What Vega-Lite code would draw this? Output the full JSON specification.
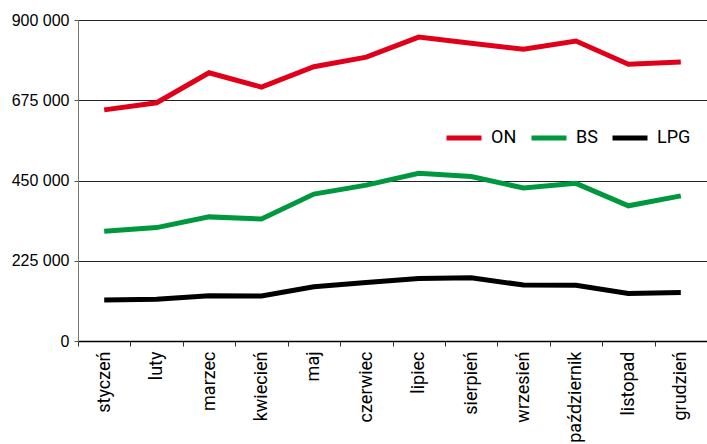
{
  "$schema": "https://vega.github.io/schema/vega-lite/v6.json",
  "width": 629,
  "height": 321,
  "autosize": {"type": "none"},
  "padding": {"left": 78, "top": 20, "right": 0, "bottom": 103},
  "background": "white",
  "data": {
    "values": [
      {"month": "styczeń", "fuel": "ON", "value": 648000},
      {"month": "luty", "fuel": "ON", "value": 668000},
      {"month": "marzec", "fuel": "ON", "value": 752000},
      {"month": "kwiecień", "fuel": "ON", "value": 712000},
      {"month": "maj", "fuel": "ON", "value": 769000},
      {"month": "czerwiec", "fuel": "ON", "value": 796000},
      {"month": "lipiec", "fuel": "ON", "value": 852000},
      {"month": "sierpień", "fuel": "ON", "value": 835000},
      {"month": "wrzesień", "fuel": "ON", "value": 818000},
      {"month": "październik", "fuel": "ON", "value": 841000},
      {"month": "listopad", "fuel": "ON", "value": 776000},
      {"month": "grudzień", "fuel": "ON", "value": 782000},
      {"month": "styczeń", "fuel": "BS", "value": 308000},
      {"month": "luty", "fuel": "BS", "value": 318000},
      {"month": "marzec", "fuel": "BS", "value": 348000},
      {"month": "kwiecień", "fuel": "BS", "value": 342000},
      {"month": "maj", "fuel": "BS", "value": 412000},
      {"month": "czerwiec", "fuel": "BS", "value": 437000},
      {"month": "lipiec", "fuel": "BS", "value": 470000},
      {"month": "sierpień", "fuel": "BS", "value": 461000},
      {"month": "wrzesień", "fuel": "BS", "value": 429000},
      {"month": "październik", "fuel": "BS", "value": 442000},
      {"month": "listopad", "fuel": "BS", "value": 379000},
      {"month": "grudzień", "fuel": "BS", "value": 407000},
      {"month": "styczeń", "fuel": "LPG", "value": 115000},
      {"month": "luty", "fuel": "LPG", "value": 117000},
      {"month": "marzec", "fuel": "LPG", "value": 127000},
      {"month": "kwiecień", "fuel": "LPG", "value": 126000},
      {"month": "maj", "fuel": "LPG", "value": 152000},
      {"month": "czerwiec", "fuel": "LPG", "value": 164000},
      {"month": "lipiec", "fuel": "LPG", "value": 175000},
      {"month": "sierpień", "fuel": "LPG", "value": 177000},
      {"month": "wrzesień", "fuel": "LPG", "value": 157000},
      {"month": "październik", "fuel": "LPG", "value": 156000},
      {"month": "listopad", "fuel": "LPG", "value": 133000},
      {"month": "grudzień", "fuel": "LPG", "value": 136000}
    ]
  },
  "mark": {"type": "line", "strokeWidth": 5, "strokeJoin": "miter", "strokeCap": "butt"},
  "encoding": {
    "x": {
      "field": "month",
      "type": "nominal",
      "sort": null,
      "bandPosition": 0.5,
      "scale": {"type": "band", "paddingInner": 0, "paddingOuter": 0},
      "axis": {
        "title": null,
        "labelAngle": -90,
        "labelAlign": "right",
        "labelBaseline": "middle",
        "labelFont": "Roboto",
        "labelFontSize": 18,
        "labelColor": "#000000",
        "labelPadding": 5,
        "tickBand": "extent",
        "tickSize": 5,
        "tickColor": "#333333",
        "domainColor": "#000000",
        "domainWidth": 1.5,
        "grid": false
      }
    },
    "y": {
      "field": "value",
      "type": "quantitative",
      "scale": {"domain": [0, 900000], "nice": false},
      "axis": {
        "title": null,
        "values": [0, 225000, 450000, 675000, 900000],
        "labelExpr": "replace(format(datum.value, ','), regexp(',', 'g'), ' ')",
        "labelFont": "Liberation Sans",
        "labelFontSize": 16,
        "labelColor": "#000000",
        "labelPadding": 5,
        "tickSize": 4,
        "tickColor": "#555555",
        "domainColor": "#777777",
        "grid": true,
        "gridColor": "#222222",
        "gridWidth": 1
      }
    },
    "color": {
      "field": "fuel",
      "type": "nominal",
      "scale": {"domain": ["ON", "BS", "LPG"], "range": ["#e1001a", "#00983f", "#000000"]},
      "legend": {
        "title": null,
        "orient": "none",
        "direction": "horizontal",
        "legendX": 366,
        "legendY": 98,
        "symbolType": "stroke",
        "symbolSize": 1225,
        "symbolStrokeWidth": 5,
        "labelFont": "Roboto",
        "labelFontSize": 18,
        "labelColor": "#000000",
        "labelOffset": 7,
        "columnPadding": 4
      }
    }
  },
  "config": {
    "view": {"stroke": null}
  }
}
